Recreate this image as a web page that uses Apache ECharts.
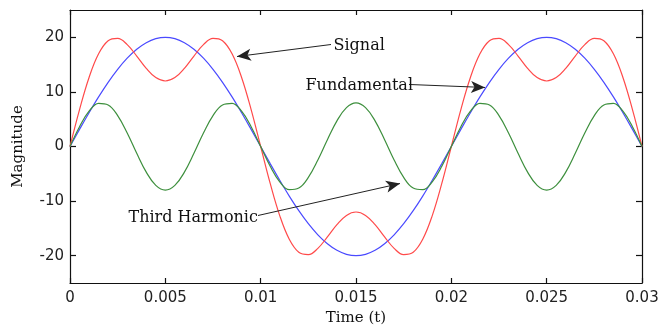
<!DOCTYPE html>
<html>
<head>
<meta charset="utf-8">
<script src="https://cdn.jsdelivr.net/npm/echarts@6/dist/echarts.min.js"></script>
<style>
html,body{margin:0;padding:0;background:#fff;}
#c{width:661px;height:329px;}
</style>
</head>
<body>
<div id="c"></div>
<script>
// Time samples (s)
var time = [0,0.0005,0.001,0.0015,0.002,0.0025,0.003,0.0035,0.004,0.0045,0.005,0.0055,0.006,0.0065,0.007,0.0075,0.008,0.0085,0.009,0.0095,
0.01,0.0105,0.011,0.0115,0.012,0.0125,0.013,0.0135,0.014,0.0145,0.015,0.0155,0.016,0.0165,0.017,0.0175,0.018,0.0185,0.019,0.0195,
0.02,0.0205,0.021,0.0215,0.022,0.0225,0.023,0.0235,0.024,0.0245,0.025,0.0255,0.026,0.0265,0.027,0.0275,0.028,0.0285,0.029,0.0295,0.03];

var signal = [0,6.76,12.65,16.98,19.37,19.80,18.65,16.57,14.32,12.62,12,12.62,14.32,16.57,18.65,19.80,19.37,16.98,12.65,6.76,
0,-6.76,-12.65,-16.98,-19.37,-19.80,-18.65,-16.57,-14.32,-12.62,-12,-12.62,-14.32,-16.57,-18.65,-19.80,-19.37,-16.98,-12.65,-6.76,
0,6.76,12.65,16.98,19.37,19.80,18.65,16.57,14.32,12.62,12,12.62,14.32,16.57,18.65,19.80,19.37,16.98,12.65,6.76,0];

var fundamental = [0,3.13,6.18,9.08,11.76,14.14,16.18,17.82,19.02,19.75,20,19.75,19.02,17.82,16.18,14.14,11.76,9.08,6.18,3.13,
0,-3.13,-6.18,-9.08,-11.76,-14.14,-16.18,-17.82,-19.02,-19.75,-20,-19.75,-19.02,-17.82,-16.18,-14.14,-11.76,-9.08,-6.18,-3.13,
0,3.13,6.18,9.08,11.76,14.14,16.18,17.82,19.02,19.75,20,19.75,19.02,17.82,16.18,14.14,11.76,9.08,6.18,3.13,0];

var thirdHarmonic = [0,3.63,6.47,7.90,7.61,5.66,2.47,-1.25,-4.70,-7.13,-8,-7.13,-4.70,-1.25,2.47,5.66,7.61,7.90,6.47,3.63,
0,-3.63,-6.47,-7.90,-7.61,-5.66,-2.47,1.25,4.70,7.13,8,7.13,4.70,1.25,-2.47,-5.66,-7.61,-7.90,-6.47,-3.63,
0,3.63,6.47,7.90,7.61,5.66,2.47,-1.25,-4.70,-7.13,-8,-7.13,-4.70,-1.25,2.47,5.66,7.61,7.90,6.47,3.63,0];

var xTicks = ['0','0.005','0.01','0.015','0.02','0.025','0.03'];
var yTickValues = [-20,-10,0,10,20];

// Annotation texts and arrow endpoints (data space)
var annoLabels = ['Signal','Fundamental','Third Harmonic'];
var annoTextPos = [[0.013794,18.5],[0.012325,11.17],[0.003042,-13.0]];
var arrowFrom = [[0.013689,18.68],[0.01778,11.36],[0.00986,-12.64]];
var arrowTo = [[0.008759,16.48],[0.021766,10.81],[0.017308,-6.78]];

function pairs(v){ return time.map(function(t,i){ return [t, v[i]]; }); }

var serif = '"DejaVu Serif", "Liberation Serif", serif';
var sans = '"DejaVu Sans", sans-serif';

var chart = echarts.init(document.getElementById('c'), null, {renderer:'canvas'});

var axisLineStyle = {color:'#111', width:1.2};

var option = {
  animation:false,
  backgroundColor:'#fff',
  grid:{left:70, right:19, top:10, bottom:46, show:false, containLabel:false, outerBoundsMode:'none'},
  xAxis:[{
    type:'value', min:0, max:0.03, interval:0.005, position:'bottom',
    name:'Time (t)', nameLocation:'middle', nameGap:28,
    nameTextStyle:{fontFamily:serif, fontSize:15, color:'#111'},
    axisLine:{show:true, onZero:false, lineStyle:axisLineStyle},
    axisTick:{show:true, inside:true, length:5, lineStyle:axisLineStyle},
    axisLabel:{margin:8, fontFamily:sans, fontSize:15, color:'#222',
      formatter:function(v){ var i=Math.round(v/0.005); return xTicks[i]; }},
    splitLine:{show:false}
  },{
    type:'value', min:0, max:0.03, interval:0.005, position:'top',
    axisLine:{show:true, onZero:false, lineStyle:axisLineStyle},
    axisTick:{show:true, inside:true, length:5, lineStyle:axisLineStyle},
    axisLabel:{show:false}, splitLine:{show:false}
  }],
  yAxis:[{
    type:'value', min:-25, max:25, position:'left',
    name:'Magnitude', nameLocation:'middle', nameGap:44, nameRotate:90,
    nameTextStyle:{fontFamily:serif, fontSize:15, color:'#111'},
    axisLine:{show:true, onZero:false, lineStyle:axisLineStyle},
    axisTick:{show:true, inside:true, length:6, lineStyle:axisLineStyle, customValues:yTickValues},
    axisLabel:{margin:6, fontFamily:sans, fontSize:15, color:'#222', customValues:yTickValues},
    splitLine:{show:false}
  },{
    type:'value', min:-25, max:25, position:'right',
    axisLine:{show:true, onZero:false, lineStyle:axisLineStyle},
    axisTick:{show:true, inside:true, length:6, lineStyle:axisLineStyle, customValues:yTickValues},
    axisLabel:{show:false}, splitLine:{show:false}
  }],
  series:[
    {name:'Fundamental', type:'line', data:pairs(fundamental), smooth:0.4, showSymbol:false,
      lineStyle:{color:'#4a4aff', width:1.2}},
    {name:'Signal', type:'line', data:pairs(signal), smooth:0.4, showSymbol:false,
      lineStyle:{color:'#ff4a4a', width:1.2}},
    {name:'Third Harmonic', type:'line', data:pairs(thirdHarmonic), smooth:0.4, showSymbol:false,
      lineStyle:{color:'#3d8f3d', width:1.2},
      markLine:{
        silent:true, animation:false,
        symbol:['none','arrow'], symbolSize:[9,14],
        lineStyle:{color:'#222', width:1, type:'solid'},
        label:{show:false},
        data: arrowFrom.map(function(f,i){ return [{coord:f},{coord:arrowTo[i]}]; })
      },
      markPoint:{
        silent:true, animation:false,
        symbol:'rect', symbolSize:1,
        itemStyle:{color:'rgba(0,0,0,0)'},
        label:{show:true, position:'right', distance:0, color:'#111', fontFamily:serif, fontSize:16,
          formatter:function(p){ return p.name; }},
        data: annoTextPos.map(function(p,i){ return {name:annoLabels[i], coord:p}; })
      }
    }
  ]
};
chart.setOption(option);
</script>
</body>
</html>
